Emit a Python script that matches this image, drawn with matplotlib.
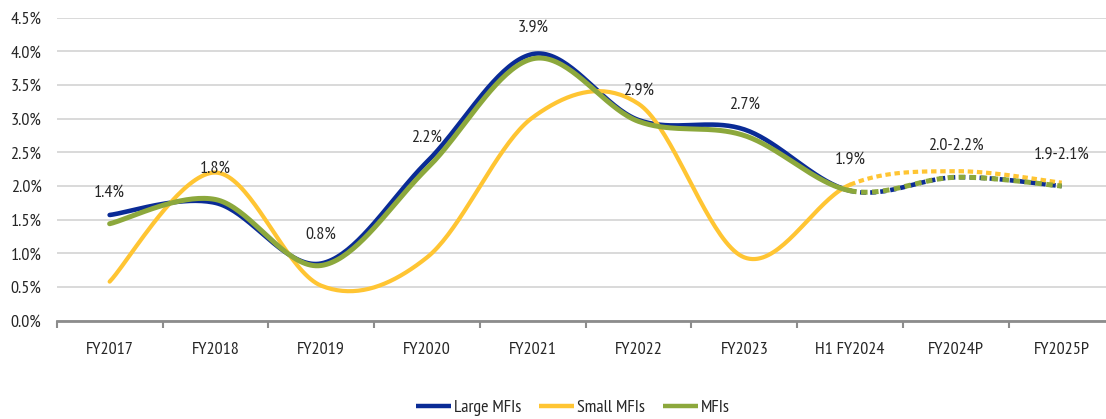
import numpy as np
import matplotlib
matplotlib.use("Agg")
import matplotlib.pyplot as plt
from matplotlib import font_manager
from matplotlib.lines import Line2D
from matplotlib.ticker import FuncFormatter, MultipleLocator

# Data (%)
categories = ["FY2017", "FY2018", "FY2019", "FY2020", "FY2021", "FY2022",
              "FY2023", "H1 FY2024", "FY2024P", "FY2025P"]
large_mfis = [1.57, 1.75, 0.85, 2.36, 3.96, 2.98, 2.84, 1.93, 2.13, 2.00]
small_mfis = [0.58, 2.20, 0.52, 0.94, 3.02, 3.22, 0.94, 2.02, 2.22, 2.05]
mfis = [1.44, 1.80, 0.82, 2.26, 3.89, 2.96, 2.75, 1.93, 2.13, 2.00]
labels = ["1.4%", "1.8%", "0.8%", "2.2%", "3.9%", "2.9%", "2.7%", "1.9%",
          "2.0-2.2%", "1.9-2.1%"]
n_actual = 8  # points up to H1 FY2024 are actuals; the rest are projections

avail = {f.name for f in font_manager.fontManager.ttflist}
family = next((f for f in ("PT Sans Narrow", "Roboto Condensed", "Archivo Narrow",
                           "Liberation Sans Narrow") if f in avail), "Liberation Sans")
plt.rcParams["font.family"] = [family, "DejaVu Sans"]
FS = 13
TXT = "#262626"


def smooth(y, steps=40):
    """Smoothed line through the points (Bezier with Catmull-Rom tangents)."""
    y = np.asarray(y, dtype=float)
    x = np.arange(len(y), dtype=float)
    xs, ys = [], []
    for i in range(len(y) - 1):
        p0 = (x[i - 1], y[i - 1]) if i > 0 else (x[i], y[i])
        p1 = (x[i], y[i])
        p2 = (x[i + 1], y[i + 1])
        p3 = (x[i + 2], y[i + 2]) if i + 2 < len(y) else (x[i + 1], y[i + 1])
        c1 = (p1[0] + (p2[0] - p0[0]) / 6, p1[1] + (p2[1] - p0[1]) / 6)
        c2 = (p2[0] - (p3[0] - p1[0]) / 6, p2[1] - (p3[1] - p1[1]) / 6)
        t = np.linspace(0, 1, steps, endpoint=(i == len(y) - 2))
        b0, b1, b2, b3 = (1 - t) ** 3, 3 * (1 - t) ** 2 * t, 3 * (1 - t) * t ** 2, t ** 3
        xs.append(b0 * p1[0] + b1 * c1[0] + b2 * c2[0] + b3 * p2[0])
        ys.append(b0 * p1[1] + b1 * c1[1] + b2 * c2[1] + b3 * p2[1])
    return np.concatenate(xs), np.concatenate(ys)


fig = plt.figure(figsize=(11.06, 4.19), dpi=100)
ax = fig.add_axes([0.0513, 0.2346, 0.9565, 0.7232])

series = [
    ("Large MFIs", large_mfis, "#0A2B96", 3.3),
    ("Small MFIs", small_mfis, "#FFC533", 3.0),
    ("MFIs", mfis, "#8CA83C", 3.6),
]

steps = 40
split = (n_actual - 1) * steps
for name, vals, color, lw in series:
    xs, ys = smooth(vals, steps)
    ax.plot(xs[:split + 1], ys[:split + 1], color=color, lw=lw,
            solid_capstyle="round", zorder=3)
    ax.plot(xs[split:], ys[split:], color=color, lw=lw,
            linestyle=(0, (1.3, 0.9)), dash_capstyle="butt", zorder=3)

for i, (lab, v) in enumerate(zip(labels, mfis)):
    ax.annotate(lab, (i, v), xytext=(0, 31), textcoords="offset pixels",
                ha="center", va="center", fontsize=FS, color=TXT, zorder=5)

ax.set_xlim(-0.5, len(categories) - 0.5)
ax.set_ylim(0, 4.5)
ax.yaxis.set_major_locator(MultipleLocator(0.5))
ax.yaxis.set_major_formatter(FuncFormatter(lambda v, _: f"{v:.1f}%"))
ax.set_xticks(range(len(categories)))
ax.set_xticklabels(categories)
ax.set_xticks(np.arange(-0.5, len(categories), 1.0), minor=True)

ax.grid(axis="y", color="#D0D0D0", lw=1.1, zorder=0)
for s in ("top", "right", "left"):
    ax.spines[s].set_visible(False)
ax.spines["bottom"].set_color("#8C8C8C")
ax.spines["bottom"].set_linewidth(2)
ax.spines["bottom"].set_zorder(4)

ax.tick_params(axis="y", length=0, pad=11, labelsize=FS, labelcolor=TXT)
ax.tick_params(axis="x", which="major", length=0, pad=15, labelsize=FS,
               labelcolor=TXT)
ax.tick_params(axis="x", which="minor", length=5, width=1.5, color="#8C8C8C",
               direction="out")

handles = [Line2D([], [], color=c, lw=3.2, solid_capstyle="butt")
           for _, _, c, _ in series]
fig.legend(handles, [n for n, _, _, _ in series], loc="center",
           bbox_to_anchor=(0.518, 0.026), ncol=3, frameon=False, fontsize=FS,
           handlelength=1.95, handletextpad=0.15, columnspacing=1.0,
           labelcolor=TXT)

fig.savefig("out.png", dpi=100)
